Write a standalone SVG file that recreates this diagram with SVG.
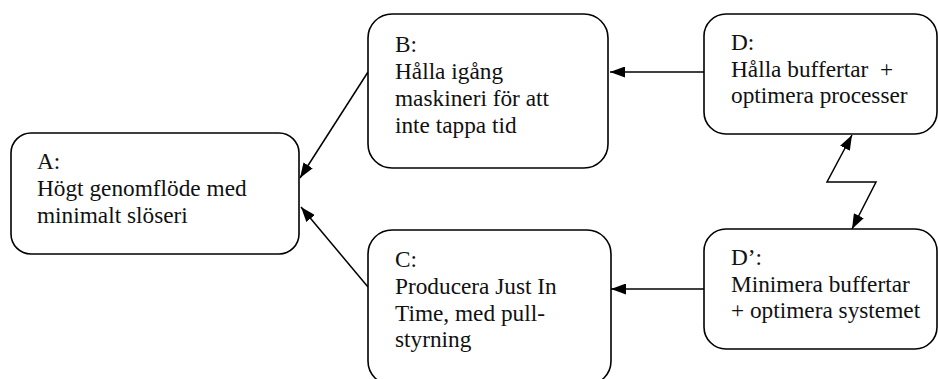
<svg xmlns="http://www.w3.org/2000/svg" width="938" height="379" viewBox="0 0 938 379">
<style>
.box{fill:#fff;stroke:#000;stroke-width:1.6}
.t{font-family:"Liberation Serif","Times New Roman",serif;font-size:23.3px;fill:#111}
.c{fill:none;stroke:#000;stroke-width:1.5}
</style>
<defs>
<marker id="ah" viewBox="0 0 15 11" refX="15" refY="5.5" markerWidth="15" markerHeight="11" markerUnits="userSpaceOnUse" orient="auto-start-reverse">
<path d="M0,0 L15,5.5 L0,11 Z" fill="#000"/>
</marker>
</defs>
<g id="connectors">
<line class="c" x1="368" y1="72" x2="300" y2="178" marker-end="url(#ah)"/>
<line class="c" x1="368" y1="287" x2="301" y2="207" marker-end="url(#ah)"/>
<line class="c" x1="704" y1="72" x2="610" y2="72" marker-end="url(#ah)"/>
<line class="c" x1="704" y1="289" x2="611" y2="289" marker-end="url(#ah)"/>
<polyline class="c" points="852,135 827,182 876,182 852,229" marker-start="url(#ah)" marker-end="url(#ah)"/>
</g>
<g id="A">
<rect class="box" x="11" y="133" width="288" height="121" rx="20"/>
<text class="t" x="37" y="169">A:</text>
<text class="t" x="37" y="196">Högt genomflöde med</text>
<text class="t" x="37" y="223">minimalt slöseri</text>
</g>
<g id="B">
<rect class="box" x="368" y="14" width="240" height="154" rx="24"/>
<text class="t" x="395" y="52">B:</text>
<text class="t" x="395" y="79">Hålla igång</text>
<text class="t" x="395" y="106">maskineri för att</text>
<text class="t" x="395" y="133">inte tappa tid</text>
</g>
<g id="C">
<rect class="box" x="368" y="230" width="243" height="155" rx="24"/>
<text class="t" x="395" y="267">C:</text>
<text class="t" x="395" y="294">Producera Just In</text>
<text class="t" x="395" y="321">Time, med pull-</text>
<text class="t" x="395" y="347">styrning</text>
</g>
<g id="D">
<rect class="box" x="704" y="14" width="233" height="120" rx="22"/>
<text class="t" x="731" y="50">D:</text>
<text class="t" x="731" y="77" xml:space="preserve" style="white-space:pre">Hålla buffertar  +</text>
<text class="t" x="731" y="103">optimera processer</text>
</g>
<g id="Dprime">
<rect class="box" x="704" y="229" width="233" height="120" rx="22"/>
<text class="t" x="731" y="265">D’:</text>
<text class="t" x="731" y="292">Minimera buffertar</text>
<text class="t" x="731" y="318">+ optimera systemet</text>
</g>
</svg>
